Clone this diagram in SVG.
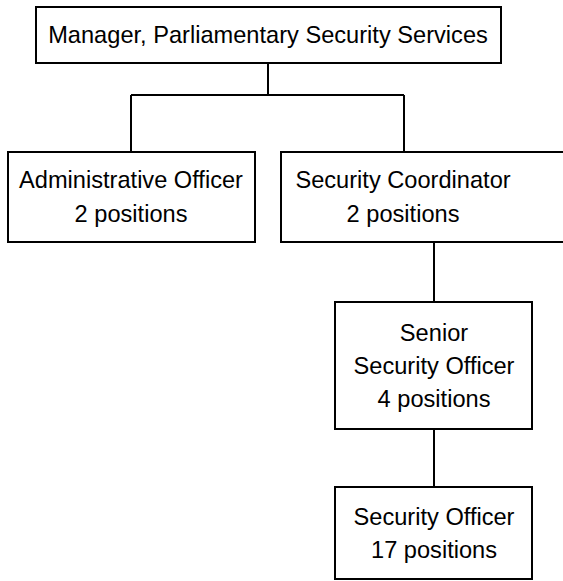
<svg xmlns="http://www.w3.org/2000/svg" width="563" height="581" viewBox="0 0 563 581">
<style>
.box{fill:#fff;stroke:#000;stroke-width:2}
.t{font-family:"Liberation Sans",Arial,sans-serif;font-size:24.6px;fill:#000;text-anchor:middle}
.c{fill:none;stroke:#000;stroke-width:2}
</style>
<rect width="563" height="581" fill="#fff"/>
<g id="connectors">
<path class="c" d="M268,63 V95 M131,95 H404 M131,95 V152 M404,95 V152"/>
<path class="c" d="M434,243 V302"/>
<path class="c" d="M434,429 V487"/>
</g>
<g id="manager">
<rect class="box" x="36" y="7" width="465" height="56"/>
<g transform="translate(268,0) scale(0.96,1)"><text class="t" x="0" y="43.5">Manager, Parliamentary Security Services</text></g>
</g>
<g id="admin">
<rect class="box" x="8" y="152" width="247" height="90"/>
<g transform="translate(131,0) scale(0.96,1)">
<text class="t" x="0" y="188">Administrative Officer</text>
<text class="t" x="0" y="222">2 positions</text>
</g>
</g>
<g id="coordinator">
<rect class="box" x="281" y="152" width="300" height="90"/>
<g transform="translate(403,0) scale(0.96,1)">
<text class="t" x="0" y="188">Security Coordinator</text>
<text class="t" x="0" y="222">2 positions</text>
</g>
</g>
<g id="senior">
<rect class="box" x="335" y="302" width="197" height="127"/>
<g transform="translate(434,0) scale(0.96,1)">
<text class="t" x="0" y="341">Senior</text>
<text class="t" x="0" y="374">Security Officer</text>
<text class="t" x="0" y="407">4 positions</text>
</g>
</g>
<g id="officer">
<rect class="box" x="335" y="487" width="197" height="92"/>
<g transform="translate(434,0) scale(0.96,1)">
<text class="t" x="0" y="525">Security Officer</text>
<text class="t" x="0" y="558">17 positions</text>
</g>
</g>
</svg>
